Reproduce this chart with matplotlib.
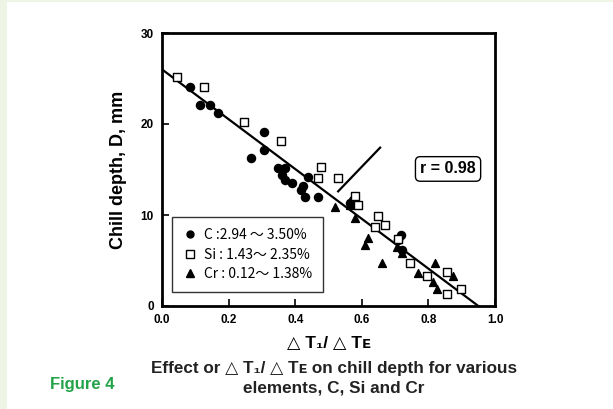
import matplotlib
matplotlib.use("Agg")
import matplotlib.pyplot as plt
from matplotlib.patches import Rectangle
from matplotlib.lines import Line2D

plt.rcParams['font.family'] = ['Liberation Sans Narrow', 'Liberation Sans', 'DejaVu Sans']

# data (x = dT1/dTE, y = chill depth in mm)
c_x = [0.084, 0.114, 0.144, 0.168, 0.306, 0.306, 0.267, 0.348, 0.369, 0.360, 0.369,
       0.390, 0.423, 0.417, 0.438, 0.429, 0.468, 0.574, 0.565, 0.718, 0.709, 0.721]
c_y = [24.1, 22.1, 22.1, 21.2, 19.1, 17.1, 16.3, 15.2, 15.2, 14.4, 13.8,
       13.5, 13.2, 12.7, 14.2, 12.0, 12.0, 11.6, 11.3, 7.8, 7.3, 6.2]

si_x = [0.045, 0.126, 0.246, 0.357, 0.477, 0.468, 0.529, 0.580, 0.589, 0.649, 0.670,
        0.640, 0.709, 0.745, 0.796, 0.856, 0.898, 0.856]
si_y = [25.2, 24.1, 20.2, 18.1, 15.3, 14.1, 14.1, 12.1, 11.1, 9.9, 8.9,
        8.7, 7.4, 4.7, 3.3, 3.7, 1.9, 1.3]

cr_x = [0.520, 0.565, 0.580, 0.619, 0.610, 0.661, 0.706, 0.721, 0.769, 0.820,
        0.814, 0.826, 0.874]
cr_y = [10.9, 11.1, 9.7, 7.5, 6.7, 4.7, 6.5, 5.8, 3.6, 4.7,
        2.6, 1.9, 3.3]

fit_x = [0.0, 0.95]
fit_y = [26.0, 0.0]

arrow_x = [0.655, 0.529]
arrow_y = [17.4, 12.6]

labels = ['C :2.94 〜 3.50%', 'Si : 1.43〜 2.35%', 'Cr : 0.12〜 1.38%']
xticks = [0.0, 0.2, 0.4, 0.6, 0.8, 1.0]
yticks = [0, 10, 20, 30]

fig = plt.figure(figsize=(6.13, 4.09), dpi=100, facecolor='#eef5e4')
fig.patches.append(Rectangle((7 / 613, 0), 1, 1 - 2 / 409, transform=fig.transFigure,
                             facecolor='white', edgecolor='none', zorder=-10))

ax = fig.add_axes([162 / 613, 1 - 306 / 409, 333 / 613, 273 / 409])
ax.set_xlim(0, 1.0)
ax.set_ylim(0, 30)
for s in ax.spines.values():
    s.set_linewidth(2)

ax.plot(fit_x, fit_y, color='black', lw=1.6, zorder=2)
ax.plot(arrow_x, arrow_y, color='black', lw=1.6, zorder=2)

ax.scatter(c_x, c_y, marker='o', s=34, color='black', zorder=3)
ax.scatter(si_x, si_y, marker='s', s=36, facecolor='white', edgecolor='black', lw=1.0, zorder=3)
ax.scatter(cr_x, cr_y, marker='^', s=32, color='black', zorder=3)

ax.set_xticks(xticks)
ax.set_xticklabels(['%.1f' % v for v in xticks])
ax.set_yticks(yticks)
ax.tick_params(direction='in', length=5, width=1.2, labelsize=8.5)
ax.tick_params(axis='x', pad=6)
ax.tick_params(axis='y', pad=6)
for t in ax.get_xticklabels() + ax.get_yticklabels():
    t.set_fontweight('bold')

ax.set_ylabel('Chill depth, D, mm', fontsize=13, fontweight='bold', labelpad=10)
ax.set_xlabel('△ T₁/ △ Tᴇ', fontsize=12.5, fontweight='bold', labelpad=7)

handles = [
    Line2D([], [], marker='o', ls='none', color='black', ms=5),
    Line2D([], [], marker='s', ls='none', mfc='white', mec='black', ms=6),
    Line2D([], [], marker='^', ls='none', color='black', ms=6),
]
leg = ax.legend(handles, labels, loc='lower left', bbox_to_anchor=(0.03, 0.05),
                borderaxespad=0, frameon=True, fancybox=False, handlelength=1.0,
                handletextpad=0.5, labelspacing=0.4, borderpad=0.8,
                prop={'family': ['Liberation Sans Narrow', 'Noto Sans CJK JP', 'DejaVu Sans'], 'size': 10})
leg.get_frame().set_edgecolor('black')
leg.get_frame().set_linewidth(1.0)

ax.text(0.859, 0.502, 'r = 0.98', transform=ax.transAxes, ha='center', va='center',
        fontsize=11.5, fontweight='bold',
        bbox=dict(boxstyle='round,pad=0.3', facecolor='white', edgecolor='black', lw=1.0))

fig.text(334 / 613, 1 - 378 / 409, 'Effect or △ T₁/ △ Tᴇ on chill depth for various\nelements, C, Si and Cr',
         ha='center', va='center', fontsize=12.3, fontweight='bold', linespacing=1.4, color='#222222')
fig.text(50 / 613, 1 - 384 / 409, 'Figure 4', ha='left', va='center', fontsize=12,
         fontweight='bold', color='#22a347')

fig.savefig('out.png', dpi=100, facecolor=fig.get_facecolor())
